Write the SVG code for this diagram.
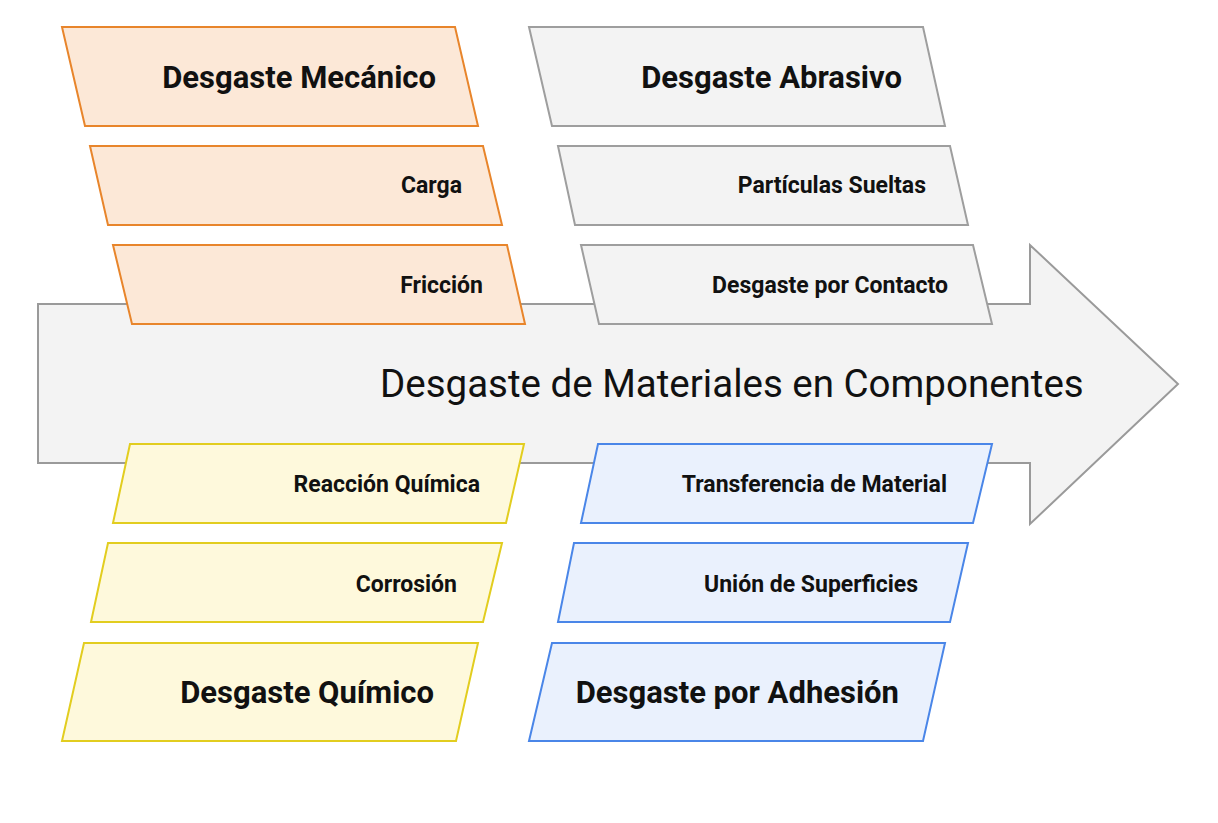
<svg xmlns="http://www.w3.org/2000/svg" width="1218" height="823" viewBox="0 0 1218 823">
<style>
.bg{fill:#ffffff}
.arrow{fill:#f3f3f3;stroke:#9a9a9a;stroke-width:2}
.o{fill:#fce8d7;stroke:#e8852b;stroke-width:2}
.g{fill:#f3f3f3;stroke:#9e9e9e;stroke-width:2}
.y{fill:#fef9dc;stroke:#e2cd1f;stroke-width:2}
.b{fill:#eaf1fd;stroke:#4a86e8;stroke-width:2}
.big{font-family:Roboto,"Liberation Sans",sans-serif;font-weight:bold;font-size:31px;fill:#111;text-anchor:end}
.sm{font-family:Roboto,"Liberation Sans",sans-serif;font-weight:bold;font-size:23px;fill:#111;text-anchor:end}
.title{font-family:Roboto,"Liberation Sans",sans-serif;font-size:38.5px;fill:#111}
</style>
<rect class="bg" x="0" y="0" width="1218" height="823"/>
<g id="spine">
<polygon class="arrow" points="38,304 1030,304 1030,245 1178,384 1030,524 1030,463 38,463"/>
<text class="title" x="380" y="397">Desgaste de Materiales en Componentes</text>
</g>
<g id="connectors"></g>
<g id="desgaste-mecanico">
<polygon class="o" points="62,27 455,27 478,126 85,126"/>
<text class="big" x="436" y="88">Desgaste Mecánico</text>
</g>
<g id="carga">
<polygon class="o" points="90,146 483,146 502,225 108,225"/>
<text class="sm" x="462" y="193">Carga</text>
</g>
<g id="friccion">
<polygon class="o" points="113,245 507,245 525,324 132,324"/>
<text class="sm" x="483" y="293">Fricción</text>
</g>
<g id="desgaste-abrasivo">
<polygon class="g" points="529,27 923,27 945,126 552,126"/>
<text class="big" x="902" y="88">Desgaste Abrasivo</text>
</g>
<g id="particulas-sueltas">
<polygon class="g" points="558,146 950,146 968,225 575,225"/>
<text class="sm" x="926" y="193">Partículas Sueltas</text>
</g>
<g id="desgaste-contacto">
<polygon class="g" points="581,245 973,245 992,324 599,324"/>
<text class="sm" x="948" y="293">Desgaste por Contacto</text>
</g>
<g id="reaccion-quimica">
<polygon class="y" points="130,444 524,444 506,523 113,523"/>
<text class="sm" x="480" y="492">Reacción Química</text>
</g>
<g id="corrosion">
<polygon class="y" points="108,543 502,543 483,622 91,622"/>
<text class="sm" x="457" y="592">Corrosión</text>
</g>
<g id="desgaste-quimico">
<polygon class="y" points="84,643 478,643 456,741 62,741"/>
<text class="big" x="434" y="703">Desgaste Químico</text>
</g>
<g id="transferencia-material">
<polygon class="b" points="598,444 992,444 973,523 581,523"/>
<text class="sm" x="947" y="492">Transferencia de Material</text>
</g>
<g id="union-superficies">
<polygon class="b" points="574,543 968,543 950,622 558,622"/>
<text class="sm" x="918" y="592">Unión de Superficies</text>
</g>
<g id="desgaste-adhesion">
<polygon class="b" points="552,643 945,643 923,741 529,741"/>
<text class="big" x="899" y="703">Desgaste por Adhesión</text>
</g>
</svg>
